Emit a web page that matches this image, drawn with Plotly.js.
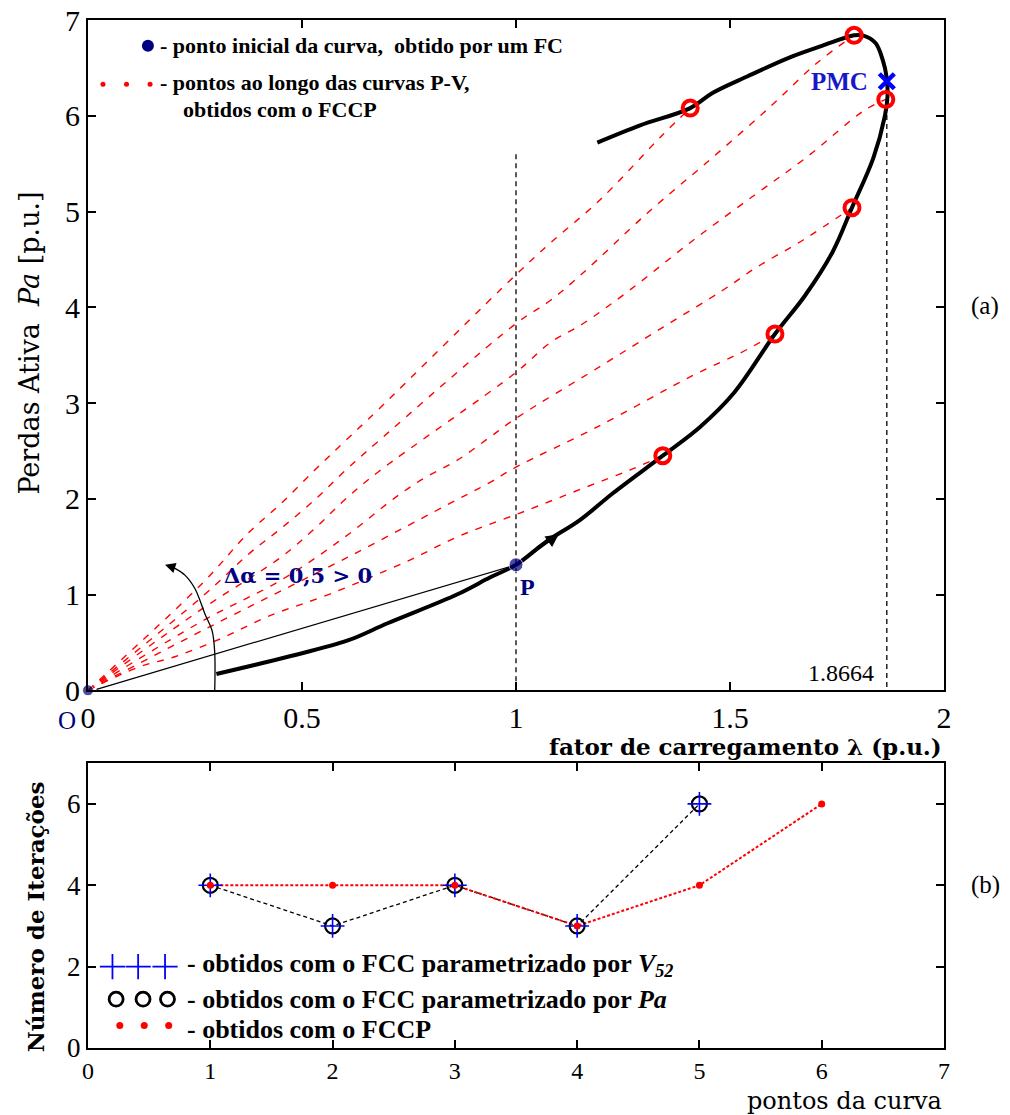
<!DOCTYPE html>
<html><head><meta charset="utf-8">
<script src="https://cdn.plot.ly/plotly-3.0.1.min.js"></script>
<style>html,body{margin:0;padding:0;background:#fff}#chart{width:1010px;height:1115px}</style>
</head><body><div id="chart"></div>
<script>
// ---------- (a) data ----------
const curveX = [0.30,0.467,0.607,0.70,0.862,0.94,1.00,1.07,1.15,1.227,1.343,1.43,1.51,1.605,1.675,1.74,1.785,1.835,1.862,1.868,1.866,1.857,1.84,1.81,1.79,1.715,1.64,1.54,1.46,1.407,1.29,1.19];
const curveY = [0.17,0.35,0.52,0.70,1.00,1.18,1.31,1.55,1.78,2.06,2.45,2.75,3.11,3.72,4.12,4.58,5.04,5.56,6.00,6.20,6.40,6.58,6.76,6.84,6.84,6.73,6.61,6.41,6.24,6.08,5.90,5.72];

const pv1X = [0,0.27,0.374,0.451,0.53,0.60,0.678,1.0,1.08,1.196,1.336,1.407];
const pv1Y = [0,1.13,1.64,1.95,2.30,2.60,2.93,4.34,4.67,5.12,5.77,6.08];
const pv2X = [0,0.27,0.38,0.451,0.53,0.60,0.678,1.0,1.08,1.157,1.306,1.453,1.593,1.703,1.79];
const pv2Y = [0,0.99,1.44,1.69,1.99,2.29,2.60,3.83,4.07,4.36,4.98,5.54,6.09,6.55,6.84];
const pv3X = [0,0.27,0.451,0.53,0.60,0.678,1.0,1.08,1.157,1.266,1.414,1.563,1.68,1.815,1.864];
const pv3Y = [0,0.86,1.39,1.69,1.99,2.28,3.32,3.63,3.83,4.18,4.70,5.19,5.57,6.06,6.17];
const pv4X = [0,0.27,0.451,0.60,0.72,0.787,0.862,0.935,1.0,1.196,1.343,1.484,1.563,1.67,1.785];
const pv4Y = [0,0.73,1.15,1.60,2.02,2.22,2.40,2.63,2.84,3.38,3.79,4.18,4.42,4.70,5.04];
const pv5X = [0,0.27,0.607,0.862,0.935,1.0,1.19,1.414,1.523,1.605];
const pv5Y = [0,0.63,1.39,1.99,2.16,2.33,2.75,3.29,3.52,3.72];
const pv6X = [0,0.117,0.203,0.311,0.42,0.568,0.752,0.862,1.009,1.157,1.266,1.343];
const pv6Y = [0,0.24,0.35,0.54,0.77,1.01,1.36,1.60,1.85,2.11,2.30,2.45];

const circX = [1.343,1.605,1.785,1.864,1.79,1.407];
const circY = [2.45,3.72,5.04,6.17,6.84,6.08];

const startX = [0, 1.0];
const startY = [0, 1.31];
const pmcX = [1.8664];
const pmcY = [6.36];
const pmcValue = "1.8664";

const vecX = [0.02, 1.0];          // thin vector O -> P
const vecY = [0.01, 1.31];
const arcX = [0.296,0.296,0.29,0.273,0.25,0.227,0.20];   // Δα curved arrow
const arcY = [-0.02,0.40,0.62,0.80,1.06,1.20,1.28];
const vline1X = [1, 1];  const vline1Y = [0, 5.6];
const vline2X = [1.8664, 1.8664]; const vline2Y = [-0.06, 6.12];

const legAX1 = [0.14]; const legAY1 = [6.73];
const legAX2 = [0.035,0.09,0.145]; const legAY2 = [6.33,6.33,6.33];

// ---------- (b) data ----------
const pontos = [1,2,3,4,5,6];
const itV52 = [4,3,4,3,6];
const itPa  = [4,3,4,3,6];
const itFCCP = [4,4,4,3,4,6];

const legBplusX = [0.2,0.41,0.63];  const legBplusY = [2.0,2.0,2.0];
const legBcircX = [0.23,0.45,0.65]; const legBcircY = [1.2,1.2,1.2];
const legBdotX  = [0.26,0.46,0.66]; const legBdotY  = [0.55,0.55,0.55];

const FONT = "Liberation Serif, Times New Roman, serif";
const WIDE = "DejaVu Serif, serif";
const NAVY = "#000080";

const traces = [];
const pvs = [[pv1X,pv1Y],[pv2X,pv2Y],[pv3X,pv3Y],[pv4X,pv4Y],[pv5X,pv5Y],[pv6X,pv6Y]];
pvs.forEach(p => traces.push({x:p[0], y:p[1], mode:'lines', line:{color:'#ff0000', width:1.4, dash:'7px,8px', shape:'spline'}, xaxis:'x', yaxis:'y', hoverinfo:'skip'}));
traces.push({x:vline1X, y:vline1Y, mode:'lines', line:{color:'#000', width:1.3, dash:'5px,4px'}, xaxis:'x', yaxis:'y'});
traces.push({x:vline2X, y:vline2Y, mode:'lines', line:{color:'#000', width:1.3, dash:'5px,4px'}, xaxis:'x', yaxis:'y', cliponaxis:false});
traces.push({x:vecX, y:vecY, mode:'lines', line:{color:'#000', width:1.2}, xaxis:'x', yaxis:'y'});
traces.push({x:arcX, y:arcY, mode:'lines', line:{color:'#000', width:1.3, shape:'spline'}, xaxis:'x', yaxis:'y', cliponaxis:false});
traces.push({x:curveX, y:curveY, mode:'lines', line:{color:'#000', width:4, shape:'spline'}, xaxis:'x', yaxis:'y'});
traces.push({x:circX, y:circY, mode:'markers', marker:{symbol:'circle-open', size:15, color:'#ff0000', line:{width:4}}, xaxis:'x', yaxis:'y'});
traces.push({x:startX, y:startY, mode:'markers', marker:{symbol:'circle', size:[11,14], color:NAVY}, xaxis:'x', yaxis:'y', cliponaxis:false});
traces.push({x:pmcX, y:pmcY, mode:'markers', marker:{symbol:'x-thin-open', size:15, color:'#0000ff', line:{width:4.5}}, xaxis:'x', yaxis:'y'});
traces.push({x:legAX1, y:legAY1, mode:'markers', marker:{symbol:'circle', size:12, color:NAVY}, xaxis:'x', yaxis:'y'});
traces.push({x:legAX2, y:legAY2, mode:'markers', marker:{symbol:'circle', size:5, color:'#ff0000'}, xaxis:'x', yaxis:'y'});

// (b)
traces.push({x:pontos.slice(0,5), y:itPa, mode:'lines', line:{color:'#000', width:1.3, dash:'4px,3px'}, xaxis:'x2', yaxis:'y2'});
traces.push({x:pontos, y:itFCCP, mode:'lines', line:{color:'#ff0000', width:2, dash:'3px,2px'}, xaxis:'x2', yaxis:'y2'});
traces.push({x:pontos.slice(0,5), y:itPa, mode:'markers', marker:{symbol:'circle-open', size:15, color:'#000', line:{width:2.2}}, xaxis:'x2', yaxis:'y2'});
traces.push({x:pontos.slice(0,5), y:itV52, mode:'markers', marker:{symbol:'cross-thin-open', size:17, color:'#0000ff', line:{width:1.6}}, xaxis:'x2', yaxis:'y2'});
traces.push({x:pontos, y:itFCCP, mode:'markers', marker:{symbol:'circle', size:7, color:'#ff0000'}, xaxis:'x2', yaxis:'y2'});
traces.push({x:legBplusX, y:legBplusY, mode:'markers', marker:{symbol:'cross-thin-open', size:18, color:'#0000ff', line:{width:1.8}}, xaxis:'x2', yaxis:'y2'});
traces.push({x:legBcircX, y:legBcircY, mode:'markers', marker:{symbol:'circle-open', size:14, color:'#000', line:{width:2.8}}, xaxis:'x2', yaxis:'y2'});
traces.push({x:legBdotX, y:legBdotY, mode:'markers', marker:{symbol:'circle', size:7, color:'#ff0000'}, xaxis:'x2', yaxis:'y2'});

const axBase = {showgrid:false, zeroline:false, showline:true, linecolor:'#000', linewidth:2, mirror:'ticks', ticks:'inside', ticklen:8, tickwidth:2, tickcolor:'#000', tickfont:{family:FONT, size:30, color:'#000'}, fixedrange:true};

const ann = [];
function T(text, x, y, o) { ann.push(Object.assign({text:text, x:x, y:y, xref:'x', yref:'y', showarrow:false, font:{family:FONT, size:22, color:'#000', weight:'bold'}}, o||{})); }
T('- ponto inicial da curva,  obtido por um FC', 0.164, 6.73, {xanchor:'left'});
T('- pontos ao longo das curvas P-V,', 0.164, 6.35, {xanchor:'left'});
T('obtidos com o FCCP', 0.218, 6.07, {xanchor:'left'});
T('PMC', 1.826, 6.36, {xanchor:'right', font:{family:FONT, size:25, color:'#1818c8', weight:'bold'}});
T(pmcValue, 1.84, 0.18, {xanchor:'right', font:{family:FONT, size:24, color:'#000'}});
T('P', 1.027, 1.08, {font:{family:FONT, size:24, color:NAVY, weight:'bold'}});
T('\u0394\u03b1 = 0,5 > 0', 0.49, 1.2, {font:{family:WIDE, size:21, color:NAVY, weight:'bold'}});
// arrowheads
ann.push({x:0.18, y:1.31, ax:0.205, ay:1.275, xref:'x', yref:'y', axref:'x', ayref:'y', text:'', showarrow:true, arrowhead:2, arrowsize:1.6, arrowwidth:1.3, arrowcolor:'#000'});
ann.push({x:1.10, y:1.63, ax:1.02, ay:1.37, xref:'x', yref:'y', axref:'x', ayref:'y', text:'', showarrow:true, arrowhead:2, arrowsize:1.3, arrowwidth:2, arrowcolor:'#000'});
// paper-positioned texts
function Pp(text, x, y, o) { ann.push(Object.assign({text:text, xref:'paper', yref:'paper', x:x, y:y, xanchor:'center', yanchor:'middle', showarrow:false}, o)); }
Pp('O', -0.0245, 0.319, {font:{family:FONT, size:25, color:NAVY}});
Pp('fator de carregamento \u03bb (p.u.)', 1.0, 0.2935, {xanchor:'right', font:{family:WIDE, size:23, color:'#000', weight:'bold'}});
Pp('Perdas Ativa  <i>Pa</i> [p.u.]', -0.068, 0.686, {textangle:-90, font:{family:WIDE, size:27, color:'#000'}});
Pp('(a)', 1.048, 0.722, {font:{family:FONT, size:25, color:'#000'}});
Pp('(b)', 1.048, 0.1586, {font:{family:FONT, size:25, color:'#000'}});
Pp('pontos da curva', 1.0, -0.0515, {xanchor:'right', font:{family:WIDE, size:24, color:'#000'}});
Pp('Número de Iterações', -0.062, 0.128, {textangle:-90, font:{family:WIDE, size:23, color:'#000', weight:'bold'}});
function B(text, y) { ann.push({text:text, x:0.79, y:y, xref:'x2', yref:'y2', xanchor:'left', showarrow:false, font:{family:FONT, size:26, color:'#000', weight:'bold'}}); }
B('- obtidos com o FCC parametrizado por <i>V<sub>52</sub></i>', 2.05);
B('- obtidos com o FCC parametrizado por <i>Pa</i>', 1.2);
B('- obtidos com o FCCP', 0.45);

const layout = {
  width:1010, height:1115, margin:{l:88, r:66, t:20, b:67},
  paper_bgcolor:'#fff', plot_bgcolor:'#fff', showlegend:false,
  xaxis: Object.assign({}, axBase, {domain:[0,1], anchor:'y', range:[0,2], tickvals:[0,0.5,1,1.5,2], ticktext:['0','0.5','1','1.5','2']}),
  yaxis: Object.assign({}, axBase, {domain:[0.348,1], anchor:'x', range:[0,7], tickvals:[0,1,2,3,4,5,6,7]}),
  xaxis2: Object.assign({}, axBase, {domain:[0,1], anchor:'y2', range:[0,7], tickvals:[0,1,2,3,4,5,6,7], tickfont:{family:FONT, size:24, color:'#000'}}),
  yaxis2: Object.assign({}, axBase, {domain:[0,0.277], anchor:'x2', range:[0,7], tickvals:[0,2,4,6], tickfont:{family:FONT, size:27, color:'#000'}}),
  annotations: ann
};
Plotly.newPlot('chart', traces, layout, {staticPlot:true, displayModeBar:false});
</script></body></html>
